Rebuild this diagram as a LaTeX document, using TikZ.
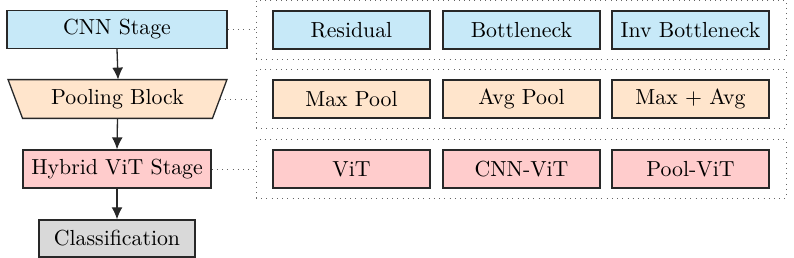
\documentclass[tikz,border=0pt]{standalone}
\usetikzlibrary{arrows.meta,fit}
\definecolor{cnnblue}{RGB}{199,233,248}
\definecolor{poolorange}{RGB}{255,229,204}
\definecolor{vitpink}{RGB}{255,204,204}
\definecolor{clsgray}{RGB}{217,217,217}
\definecolor{bordergray}{RGB}{40,40,40}
\tikzset{
  box/.style={draw=bordergray, semithick, minimum height=17.4pt, inner sep=0pt, font=\normalsize},
  opt/.style={box, minimum width=72pt},
  grp/.style={draw=black!60, dotted, thin, inner xsep=7.5pt, inner ysep=4.6pt},
  link/.style={draw=black!60, dotted, thin},
  flow/.style={draw=bordergray, semithick, -{Latex[length=5.5pt,width=5pt]}}
}
\begin{document}
\begin{tikzpicture}[x=0.4587pt, y=-0.4587pt]
\useasboundingbox (0,0) rectangle (794,258);
% left column
\node[box, fill=cnnblue, minimum width=100.9pt] (cnn) at (117,29.5) {CNN Stage};
\fill[poolorange] (9,80) -- (227,80) -- (212,118) -- (23,118) -- cycle;
\node[minimum width=86.7pt, minimum height=17.4pt, inner sep=0pt] (pool) at (117.5,99) {Pooling Block};
\draw[draw=bordergray, semithick] ([xshift=-6.65pt]pool.north west) -- ([xshift=6.65pt]pool.north east) -- (pool.south east) -- (pool.south west) -- cycle;
\coordinate (poolr) at ([xshift=3.3pt]pool.east);
\node[box, fill=vitpink, minimum width=86.2pt] (hyb) at (117,169) {Hybrid ViT Stage};
\node[box, fill=clsgray, minimum width=71.6pt, minimum height=17pt] (cls) at (117,238.5) {Classification};
\draw[flow] (cnn.south) -- ([xshift=0.25pt]pool.north);
\draw[flow] (pool.south) -- (hyb.north);
\draw[flow] (hyb.south) -- (cls.north);
% right options
\node[opt, fill=cnnblue] (res) at (351.5,30) {Residual};
\node[opt, fill=cnnblue] (bot) at (521.5,30) {Bottleneck};
\node[opt, fill=cnnblue] (inv) at (690.5,30) {Inv Bottleneck};
\node[opt, fill=poolorange] (maxp) at (351.5,99) {Max Pool};
\node[opt, fill=poolorange] (avgp) at (521.5,99) {Avg Pool};
\node[opt, fill=poolorange] (mavg) at (690.5,99) {Max + Avg};
\node[opt, fill=vitpink] (vit) at (351.5,169) {ViT};
\node[opt, fill=vitpink] (cvit) at (521.5,169) {CNN-ViT};
\node[opt, fill=vitpink] (pvit) at (690.5,169) {Pool-ViT};
\node[grp, fit=(res)(inv)] (g1) {};
\node[grp, fit=(maxp)(mavg)] (g2) {};
\node[grp, fit=(vit)(pvit)] (g3) {};
\draw[link] (cnn.east) -- (g1.west |- cnn.east);
\draw[link] (poolr) -- (g2.west |- poolr);
\draw[link] (hyb.east) -- (g3.west |- hyb.east);
\end{tikzpicture}
\end{document}
